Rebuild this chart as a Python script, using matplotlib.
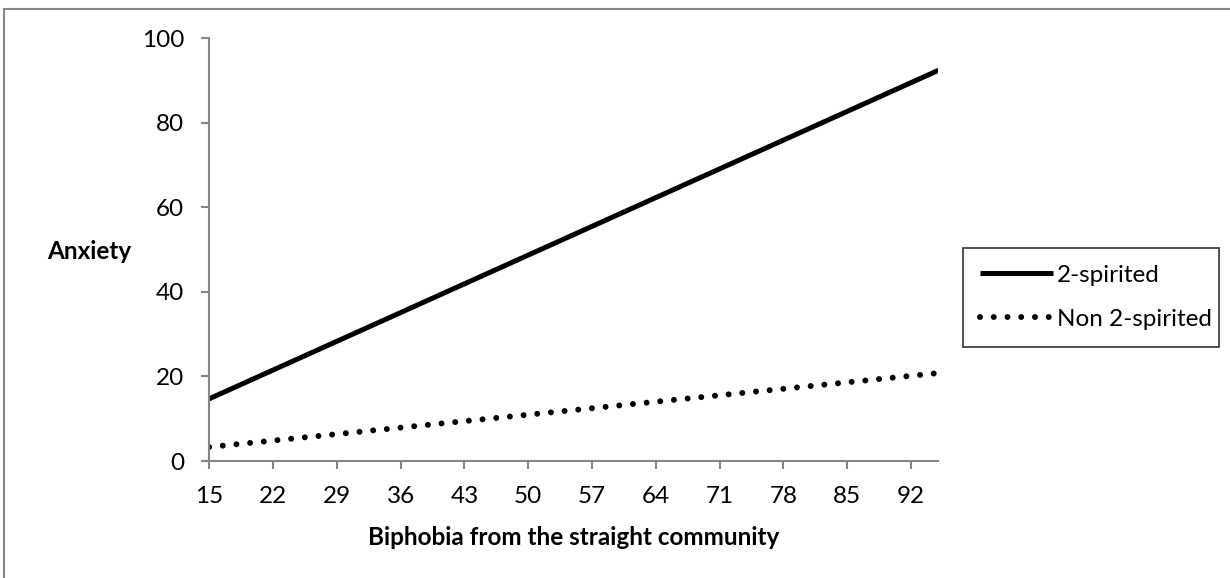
import matplotlib.pyplot as plt
from matplotlib.patches import Rectangle

plt.rcParams['font.family'] = ['Lato', 'DejaVu Sans']

# category range (biphobia score) and line endpoints
x_ends = [15, 95]
two_spirited = [14.7, 92.4]
non_two_spirited = [3.3, 20.8]

x_ticks = [15, 22, 29, 36, 43, 50, 57, 64, 71, 78, 85, 92]
y_ticks = [0, 20, 40, 60, 80, 100]

AXIS_GRAY = '#868686'
FS = 17.5

fig = plt.figure(figsize=(12.3, 5.78), dpi=100)
ax = fig.add_axes([0.170, 0.2024, 0.593, 0.7316])

ax.plot(x_ends, two_spirited, color='black', lw=3.6, solid_capstyle='butt',
        label='2-spirited')
ax.plot(x_ends, non_two_spirited, color='black', lw=4.3,
        linestyle=(0, (0.001, 2.3)), dash_capstyle='round',
        label='Non 2-spirited')

ax.set_xlim(15, 95)
ax.set_ylim(0, 100)
ax.set_xticks(x_ticks)
ax.set_xticklabels([str(t) for t in x_ticks])
ax.set_yticks(y_ticks)
ax.set_yticklabels([str(t) for t in y_ticks])

for side in ['top', 'right']:
    ax.spines[side].set_visible(False)
for side in ['left', 'bottom']:
    ax.spines[side].set_color(AXIS_GRAY)
    ax.spines[side].set_linewidth(1.5)
ax.tick_params(axis='both', direction='out', length=6, width=1.5,
               color=AXIS_GRAY, labelsize=FS)
ax.tick_params(axis='x', pad=12)
ax.tick_params(axis='y', pad=12)

ax.set_xlabel('Biphobia from the straight community', fontsize=FS,
              fontweight='bold', labelpad=14)
fig.text(0.038, 0.565, 'Anxiety', fontsize=FS, fontweight='bold',
         ha='left', va='center')

leg = ax.legend(loc='center', bbox_to_anchor=(0.783, 0.401, 0.208, 0.170),
                bbox_transform=fig.transFigure, mode='expand', fontsize=FS,
                handlelength=3.0, handletextpad=0.15, labelspacing=0.95,
                borderpad=0.7, frameon=True, fancybox=False, borderaxespad=0)
leg.get_frame().set_edgecolor('black')
leg.get_frame().set_linewidth(1.2)

# outer chart border, runs off the right and bottom of the image
fig.patches.append(Rectangle((4 / 1230, -0.1), 1.2, 1.1 - 9 / 578,
                             transform=fig.transFigure, fill=False,
                             edgecolor=AXIS_GRAY, lw=1.5))

fig.savefig('out.png', dpi=100)
